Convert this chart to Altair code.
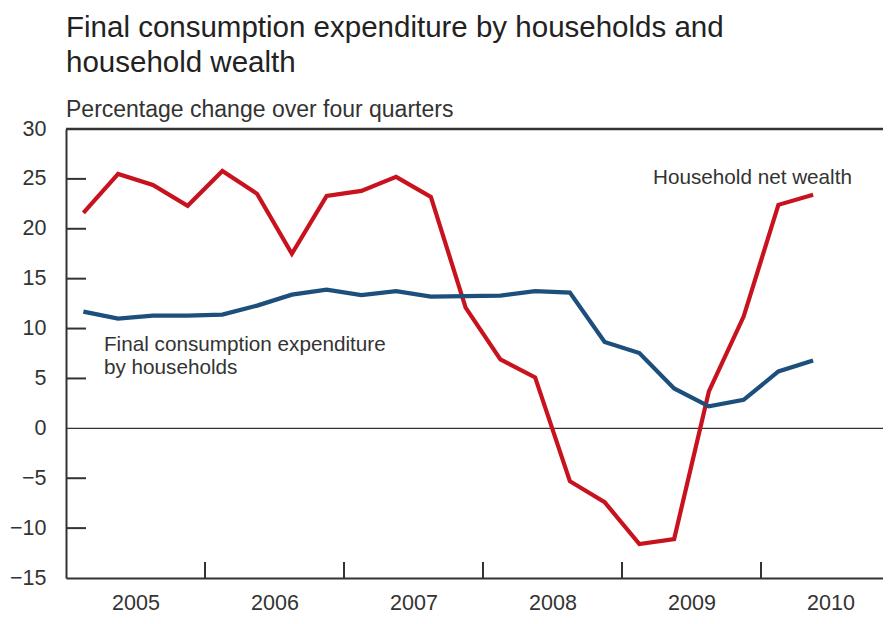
import altair as alt
import pandas as pd

quarters = ["2005Q1","2005Q2","2005Q3","2005Q4","2006Q1","2006Q2","2006Q3","2006Q4",
            "2007Q1","2007Q2","2007Q3","2007Q4","2008Q1","2008Q2","2008Q3","2008Q4",
            "2009Q1","2009Q2","2009Q3","2009Q4","2010Q1","2010Q2"]
wealth = [21.6, 25.5, 24.4, 22.3, 25.8, 23.5, 17.5, 23.3, 23.8, 25.2, 23.2, 12.1,
          6.9, 5.1, -5.3, -7.4, -11.6, -11.1, 3.7, 11.2, 22.4, 23.4]
consumption = [11.7, 11.0, 11.3, 11.3, 11.4, 12.3, 13.4, 13.9, 13.35, 13.75, 13.2, 13.25,
               13.3, 13.75, 13.6, 8.65, 7.55, 4.0, 2.2, 2.85, 5.7, 6.8]
series_names = ["Household net wealth", "Final consumption expenditure by households"]
series_colors = ["#c8131f", "#1c4f7b"]
y_tick_values = [-10, -5, 5, 10, 15, 20, 25]
y_label_values = [-15, -10, -5, 0, 5, 10, 15, 20, 25, 30]
x_tick_years = [2006, 2007, 2008, 2009, 2010]
x_label_years = [2005, 2006, 2007, 2008, 2009, 2010]

def qpos(q):
    y, n = int(q[:4]), int(q[-1])
    return y + (n - 0.5) / 4

rows = []
for q, w, c in zip(quarters, wealth, consumption):
    rows.append({"t": qpos(q), "value": w, "series": series_names[0], "order": qpos(q)})
    rows.append({"t": qpos(q), "value": c, "series": series_names[1], "order": qpos(q)})
df = pd.DataFrame(rows)

W, H = 817, 449
X0, X1 = 2005.0, 2005.0 + W / 139.0
Y0, Y1 = -15, 30
TXT = "#333333"
FONT = "Liberation Sans"

xs = alt.Scale(domain=[X0, X1], nice=False, zero=False)
ys = alt.Scale(domain=[Y0, Y1], nice=False, zero=False)

lines = alt.Chart(df).mark_line(strokeWidth=4.2, strokeJoin="miter").encode(
    x=alt.X("t:Q", scale=xs,
            axis=alt.Axis(values=[y + 0.5 for y in x_label_years], labelExpr="floor(datum.value)",
                          ticks=False, grid=False, title=None, labelFontSize=21.5, labelColor=TXT,
                          labelFont=FONT, labelPadding=14, domainColor=TXT, domainWidth=2,
                          labelFlush=False)),
    y=alt.Y("value:Q", scale=ys,
            axis=alt.Axis(values=y_label_values, ticks=False, grid=False, title=None,
                          labelFontSize=21.5, labelColor=TXT, labelFont=FONT, labelPadding=20,
                          domainColor=TXT, domainWidth=2, labelFlush=False)),
    color=alt.Color("series:N", scale=alt.Scale(domain=series_names, range=series_colors), legend=None),
    order="order:Q",
)

zero = alt.Chart(pd.DataFrame({"v": [0]})).mark_rule(color=TXT, strokeWidth=1.2).encode(
    y=alt.Y("v:Q", scale=ys))
top = alt.Chart(pd.DataFrame({"v": [Y1]})).mark_rule(color=TXT, strokeWidth=2.5).encode(
    y=alt.Y("v:Q", scale=ys))
yticks = alt.Chart(pd.DataFrame({"v": y_tick_values})).mark_rule(color=TXT, strokeWidth=2).encode(
    y=alt.Y("v:Q", scale=ys), x=alt.value(0), x2=alt.value(20))
xticks = alt.Chart(pd.DataFrame({"v": x_tick_years})).mark_rule(color=TXT, strokeWidth=2).encode(
    x=alt.X("v:Q", scale=xs), y=alt.value(H), y2=alt.value(H - 16))

ann = pd.DataFrame({
    "t": [2009.223, 2005.273, 2005.273],
    "value": [24.5, 7.8, 5.4],
    "label": ["Household net wealth", "Final consumption expenditure", "by households"],
})
texts = alt.Chart(ann).mark_text(align="left", baseline="alphabetic", fontSize=20.7,
                                 font=FONT, color=TXT).encode(
    x=alt.X("t:Q", scale=xs), y=alt.Y("value:Q", scale=ys), text="label:N")

chart = alt.layer(zero, top, yticks, xticks, lines, texts).properties(
    width=W, height=H,
    autosize=alt.AutoSizeParams(type="none"),
    padding={"left": 58, "top": 121, "right": 0, "bottom": 38},
    title=alt.TitleParams(
        text=["Final consumption expenditure by households and", "household wealth"],
        subtitle="Percentage change over four quarters",
        anchor="start", frame="group", font=FONT, fontSize=29.5, fontWeight="normal",
        color="#222222", lineHeight=35, subtitleFont=FONT, subtitleFontSize=23,
        subtitleColor=TXT, subtitlePadding=21, offset=-5,
    ),
).configure_view(stroke=None)

chart.save("out.html", embed_options={"renderer": "svg", "actions": False})
